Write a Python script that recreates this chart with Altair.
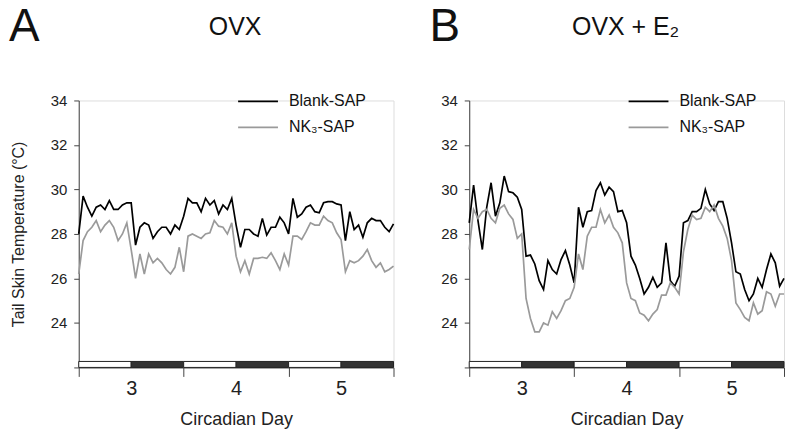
import altair as alt
import pandas as pd

hours = list(range(73))

ovx_blank = [28.0, 29.7, 29.2, 28.8, 29.2, 29.3, 29.1, 29.5, 29.1, 29.1, 29.3, 29.4, 29.4,
             27.5, 28.3, 28.5, 28.4, 27.8, 28.1, 28.3, 28.3, 28.0, 28.4, 28.2, 28.8,
             29.6, 29.4, 29.4, 29.0, 29.6, 29.3, 29.5, 28.9, 29.3, 29.1, 29.6, 28.4,
             27.4, 28.2, 28.2, 28.0, 27.9, 28.7, 27.95, 28.3, 28.3, 28.75, 28.5, 28.0,
             29.6, 28.75, 28.9, 29.2, 29.3, 29.0, 28.95, 29.4, 29.45, 29.45, 29.35, 29.3,
             27.7, 29.0, 28.2, 28.4, 27.85, 28.5, 28.7, 28.6, 28.6, 28.3, 28.1, 28.45]
ovx_nk3 = [26.2, 27.7, 28.1, 28.3, 28.6, 28.1, 28.4, 28.6, 28.3, 27.7, 28.0, 28.5, 27.3,
           26.0, 27.1, 26.2, 27.1, 26.7, 26.9, 26.7, 26.4, 26.2, 26.5, 27.4, 26.3,
           27.9, 28.0, 27.9, 27.8, 28.0, 28.05, 28.6, 28.35, 28.3, 28.0, 28.5, 27.0,
           26.3, 26.8, 26.2, 26.9, 26.9, 26.95, 26.9, 27.15, 26.8, 26.4, 27.1, 26.6,
           27.9, 27.9, 27.75, 28.1, 28.5, 28.4, 28.4, 28.8, 28.6, 28.5, 28.05, 27.75,
           26.3, 26.8, 26.7, 26.8, 27.0, 27.3, 26.8, 26.5, 26.7, 26.3, 26.4, 26.55]
e2_blank = [28.5, 30.2, 28.6, 27.3, 29.2, 30.3, 28.8, 29.4, 30.6, 29.9, 29.85, 29.65, 29.1,
            27.0, 27.05, 26.65, 25.9, 25.5, 26.8, 26.4, 26.2, 26.85, 27.25, 26.6, 25.8,
            29.2, 28.3, 29.0, 29.05, 29.95, 30.3, 29.75, 30.1, 29.9, 29.0, 29.05, 28.5,
            27.0, 26.6, 26.0, 25.3, 25.6, 26.05, 25.6, 25.8, 27.6, 25.9, 25.65, 26.1,
            28.5, 28.6, 29.0, 29.0, 29.15, 30.0, 29.35, 29.05, 29.45, 29.45, 28.7, 27.6,
            26.3, 26.2, 25.5, 25.0, 25.3, 26.0, 25.6, 26.4, 27.1, 26.7, 25.65, 26.0]
e2_nk3 = [27.3, 29.1, 28.7, 29.0, 29.1, 28.7, 28.5, 29.15, 29.3, 28.9, 28.65, 27.8, 28.0,
          25.1, 24.2, 23.6, 23.6, 24.0, 23.9, 24.5, 24.2, 24.55, 25.0, 25.1, 25.6,
          27.1, 26.4, 27.9, 28.3, 28.3, 29.1, 28.5, 28.85, 28.3, 28.05, 27.6, 25.8,
          25.1, 25.0, 24.45, 24.35, 24.1, 24.4, 24.6, 25.25, 25.25, 25.8, 25.6, 25.3,
          27.2, 28.2, 28.85, 28.65, 28.7, 29.2, 29.0, 29.3, 28.7, 28.35, 27.8, 26.8,
          24.9, 24.6, 24.25, 24.1, 24.9, 24.4, 24.55, 25.4, 25.3, 24.75, 25.3, 25.3]

series_names = ["Blank-SAP", "NK₃-SAP"]
series_colors = ["#000000", "#9a9a9a"]
x_axis_values = [2.5, 3, 3.5, 4, 4.5, 5, 5.5]
y_axis_values = [22, 24, 26, 28, 30, 32, 34]
phase_start = [2.5, 3.0, 3.5, 4.0, 4.5, 5.0]
phase_end = [3.0, 3.5, 4.0, 4.5, 5.0, 5.5]
phase_kind = ["light", "dark", "light", "dark", "light", "dark"]

W, H = 316, 268
FONT = "Liberation Sans"


def panel(blank, nk3, letter, title, show_ytitle):
    day = [2.5 + h / 24 for h in hours]
    df = pd.DataFrame({
        "day": day + day,
        "temp": blank + nk3,
        "series": [series_names[0]] * len(hours) + [series_names[1]] * len(hours),
    })
    yaxis = alt.Axis(
        values=y_axis_values,
        labelExpr="datum.value == 22 ? '' : datum.label",
        tickSize=5, labelFontSize=15, labelFont=FONT, labelColor="#222",
        labelPadding=7, grid=False, domainColor="#444", tickColor="#444",
        title="Tail Skin Temperature (°C)" if show_ytitle else None,
        titleFontSize=16, titleFont=FONT, titleFontWeight="normal",
        titleColor="#222", titlePadding=24,
    )
    xaxis = alt.Axis(
        values=x_axis_values,
        labelExpr="datum.value % 1 == 0 ? format(datum.value, 'd') : ''",
        tickOpacity={"condition": {"test": "datum.value % 1 != 0", "value": 1}, "value": 0},
        tickSize=9, labelFontSize=20, labelFont=FONT, labelColor="#222",
        labelPadding=2, grid=False, domainColor="#444", tickColor="#444",
        title="Circadian Day", titleFontSize=18, titleFont=FONT,
        titleFontWeight="normal", titleColor="#222", titlePadding=12,
    )
    lines = alt.Chart(df).mark_line(strokeWidth=1.7).encode(
        x=alt.X("day:Q", scale=alt.Scale(domain=[2.5, 5.5], nice=False, zero=False), axis=xaxis),
        y=alt.Y("temp:Q", scale=alt.Scale(domain=[22, 34], nice=False, zero=False), axis=yaxis),
        color=alt.Color("series:N", scale=alt.Scale(domain=series_names, range=series_colors), legend=None),
        detail="series:N",
    )
    pdf = pd.DataFrame({"start": phase_start, "end": phase_end, "kind": phase_kind})
    bars = alt.Chart(pdf).mark_rect(stroke="#222", strokeWidth=1).encode(
        x="start:Q", x2="end:Q",
        y=alt.value(H - 6), y2=alt.value(H),
        fill=alt.Fill("kind:N", scale=alt.Scale(domain=["light", "dark"], range=["#ffffff", "#333333"]), legend=None),
    )
    tdf = pd.DataFrame({"letter": [letter], "title": [title]})
    letter_t = alt.Chart(tdf).mark_text(fontSize=46, font=FONT, align="left", baseline="alphabetic", color="#111").encode(
        text="letter:N", x=alt.value(-70 if show_ytitle else -40), y=alt.value(-60))
    title_t = alt.Chart(tdf).mark_text(fontSize=25, font=FONT, align="center", baseline="alphabetic", color="#111").encode(
        text="title:N", x=alt.value(157), y=alt.value(-66))
    leg = []
    for i, (nm, col) in enumerate(zip(series_names, series_colors)):
        ldf = pd.DataFrame({"name": [nm]})
        yy = 1 + 26 * i
        leg.append(alt.Chart(ldf).mark_rule(color=col, strokeWidth=1.7).encode(
            x=alt.value(160), x2=alt.value(200), y=alt.value(yy)))
        leg.append(alt.Chart(ldf).mark_text(fontSize=16, font=FONT, align="left", baseline="middle", color="#111").encode(
            text="name:N", x=alt.value(211), y=alt.value(yy)))
    return alt.layer(lines, bars, letter_t, title_t, *leg).properties(width=W, height=H)


chart = alt.hconcat(
    panel(ovx_blank, ovx_nk3, "A", "OVX", True),
    panel(e2_blank, e2_nk3, "B", "OVX + E₂", False),
    spacing=31,
).properties(padding={"top": -6, "left": 0, "right": 0, "bottom": 0}).configure_view(stroke=None).configure(background="white")

chart.save("out.html", embed_options={"renderer": "svg", "actions": False})
